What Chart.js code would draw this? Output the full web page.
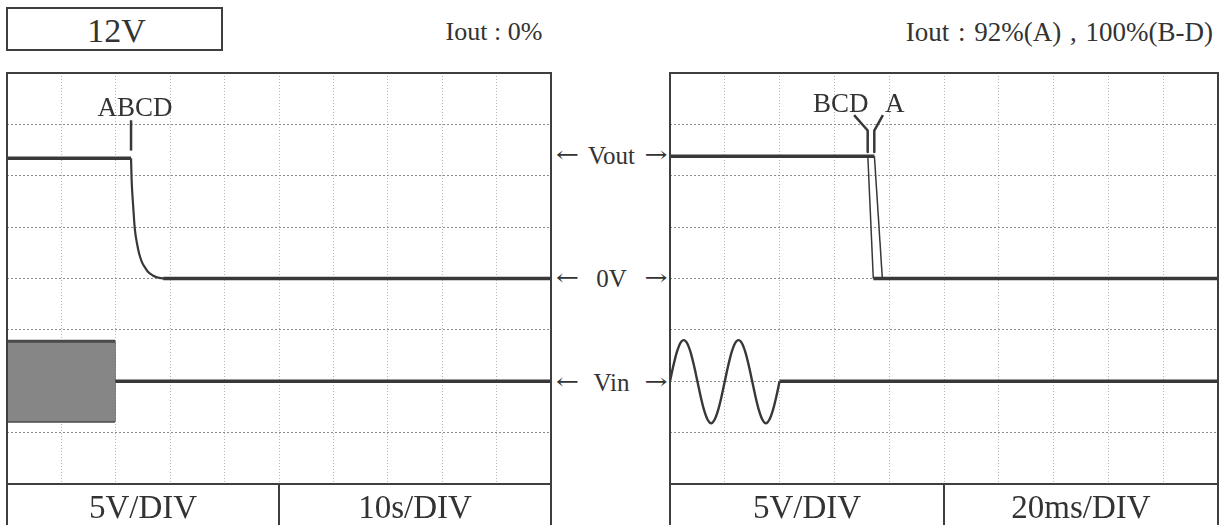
<!DOCTYPE html>
<html><head><meta charset="utf-8">
<script src="https://cdn.jsdelivr.net/npm/chart.js@4.4.0/dist/chart.umd.min.js"></script>
<style>
html,body{margin:0;padding:0;background:#fff;width:1228px;height:525px;overflow:hidden;}
body{position:relative;font-family:"Liberation Serif","DejaVu Serif",serif;color:#333;}
.t{position:absolute;line-height:1;white-space:nowrap;}
.box{position:absolute;box-sizing:border-box;border:2px solid #3e3e3e;}
.ln{position:absolute;background:#3e3e3e;}
canvas{position:absolute;}
.mid{position:absolute;left:556px;width:111px;height:26px;display:flex;justify-content:space-between;align-items:center;font-size:25px;line-height:1;}
.ar{display:inline-block;font-family:"DejaVu Serif","DejaVu Sans",serif;font-size:22px;line-height:1;}
.arl{transform-origin:left center;}
.arr{transform-origin:right center;}
</style></head><body>

<canvas id="cl" width="544" height="411" style="left:7px;top:73px;"></canvas>
<canvas id="cr" width="548" height="411" style="left:670px;top:73px;"></canvas>

<div class="box" style="left:6px;top:7px;width:217px;height:44px;"></div>
<div class="t" style="left:8px;width:217px;text-align:center;top:14px;font-size:34px;">12V</div>
<div class="t" style="left:394px;width:200px;text-align:center;top:19px;font-size:26px;">Iout : 0%</div>
<div class="t" style="right:15px;text-align:right;top:19px;font-size:27px;word-spacing:2px;">Iout : 92%(A) , 100%(B-D)</div>

<div class="box" style="left:6px;top:72px;width:546px;height:470px;"></div>
<div class="ln" style="left:6px;top:483px;width:546px;height:2px;"></div>
<div class="ln" style="left:278px;top:484px;width:2px;height:45px;"></div>
<div class="t" style="left:7px;width:272px;text-align:center;top:491px;font-size:33px;">5V/DIV</div>
<div class="t" style="left:279px;width:272px;text-align:center;top:491px;font-size:33px;">10s/DIV</div>

<div class="box" style="left:669px;top:72px;width:550px;height:470px;"></div>
<div class="ln" style="left:669px;top:483px;width:550px;height:2px;"></div>
<div class="ln" style="left:943px;top:484px;width:2px;height:45px;"></div>
<div class="t" style="left:670px;width:274px;text-align:center;top:491px;font-size:33px;">5V/DIV</div>
<div class="t" style="left:944px;width:274px;text-align:center;top:491px;font-size:33px;">20ms/DIV</div>

<div class="t" style="left:60px;width:150px;text-align:center;top:94px;font-size:27px;">ABCD</div>
<div class="t" style="left:813px;top:90px;font-size:27px;">BCD</div>
<div class="t" style="left:885px;top:90px;font-size:27px;">A</div>

<div class="mid" style="top:142px;"><span class="ar arl">←</span><span>Vout</span><span class="ar arr">→</span></div>
<div class="mid" style="top:265px;"><span class="ar arl">←</span><span>0V</span><span class="ar arr">→</span></div>
<div class="mid" style="top:369px;"><span class="ar arl">←</span><span>Vin</span><span class="ar arr">→</span></div>

<script>
// stretch the arrow glyphs to the long arrows of the original
document.querySelectorAll('.ar').forEach(function (s) {
  const w = s.getBoundingClientRect().width;
  if (w > 0) s.style.transform = 'scaleX(' + (23 / w) + ')';
});

// ---- axes (5 V/DIV, 8 vertical divisions; 10 horizontal divisions) ----
const voltMin = -20, voltMax = 20, voltStep = 5;
const leftTimeMax = 100, leftTimeStep = 10;   // seconds, 10 s/DIV
const rightTimeMax = 200, rightTimeStep = 20; // ms, 20 ms/DIV
const VIN_OFFSET = -10; // Vin trace ground is 2 divisions below Vout 0V

// ---- left panel (Iout 0%) ----
const leftVoutHighT = [0, 22.8];
const leftVoutHighV = [11.7, 11.7];
const leftVoutDecayT = [22.8, 22.9, 23.2, 23.5, 23.9, 24.3, 24.8, 25.4, 26.0, 26.8, 27.7, 28.7];
const leftVoutDecayV = [11.7, 9.7, 7.0, 4.8, 3.4, 2.4, 1.6, 1.05, 0.6, 0.3, 0.1, 0];
const leftVoutZeroT = [28.7, 100];
const leftVoutZeroV = [0, 0];
const leftVinBandT = [0, 19.85];      // AC input (dense, shown as envelope)
const leftVinBandHigh = [3.9, 3.9];
const leftVinBandLow = [-3.9, -3.9];
const leftVinOffT = [19.85, 100];
const leftVinOffV = [0, 0];
const leftMarkerT = [22.8, 22.8];     // ABCD
const leftMarkerV = [12.45, 15.4];

// ---- right panel (Iout 92% A, 100% B-D) ----
const rightVoutHighT = [0, 74.6];
const rightVoutHighV = [11.9, 11.9];
const rightDropBCDT = [72.2, 74.2];
const rightDropBCDV = [11.9, 0];
const rightDropAT = [74.6, 77.5];
const rightDropAV = [11.9, 0];
const rightVoutZeroT = [74.2, 200];
const rightVoutZeroV = [0, 0];
const rightVinSineT = [0,1.25,2.5,3.75,5,6.25,7.5,8.75,10,11.25,12.5,13.75,15,16.25,17.5,18.75,20,
  21.25,22.5,23.75,25,26.25,27.5,28.75,30,31.25,32.5,33.75,35,36.25,37.5,38.75,40];
const rightVinSineV = [0,1.53,2.83,3.7,4.0,3.7,2.83,1.53,0,-1.55,-2.86,-3.75,-4.1,-3.75,-2.86,-1.55,0,
  1.53,2.83,3.7,4.0,3.7,2.83,1.53,0,-1.55,-2.86,-3.75,-4.1,-3.75,-2.86,-1.55,0];
const rightVinOffT = [40, 200];
const rightVinOffV = [0, 0];
const rightMarkerBCDT = [67.2, 72.15, 72.15];
const rightMarkerBCDV = [15.9, 14.4, 12.3];
const rightMarkerAT = [77.7, 74.56, 74.56];
const rightMarkerAV = [15.9, 14.4, 12.3];

function pts(t, v, off) { off = off || 0; return t.map((x, i) => ({x: x, y: v[i] + off})); }
const TRACE = '#383838';
function ds(data, width, extra) {
  return Object.assign({data: data, borderColor: TRACE, borderWidth: width, pointRadius: 0,
    fill: false, tension: 0, borderCapStyle: 'butt', borderJoinStyle: 'round'}, extra || {});
}

function makeChart(id, xMax, xStep, datasets) {
  return new Chart(document.getElementById(id), {
    type: 'line',
    data: {datasets: datasets},
    options: {
      responsive: false, animation: false, devicePixelRatio: 1,
      layout: {padding: 0},
      plugins: {legend: {display: false}, tooltip: {enabled: false}},
      scales: {
        x: {type: 'linear', min: 0, max: xMax,
            ticks: {display: false, stepSize: xStep},
            grid: {color: '#b4b4b4', lineWidth: 1, drawTicks: false},
            border: {display: false, dash: [1, 2]}},
        y: {type: 'linear', min: voltMin, max: voltMax,
            ticks: {display: false, stepSize: voltStep},
            grid: {color: '#8c8c8c', lineWidth: 1, drawTicks: false},
            border: {display: false, dash: [2, 2]}}
      }
    }
  });
}

makeChart('cl', leftTimeMax, leftTimeStep, [
  ds(pts(leftVinBandT, leftVinBandHigh, VIN_OFFSET), 3,
     {fill: {value: leftVinBandLow[0] + VIN_OFFSET}, backgroundColor: '#868686', borderColor: '#4a4a4a'}),
  ds(pts(leftVinBandT, leftVinBandLow, VIN_OFFSET), 3, {borderColor: '#4a4a4a'}),
  ds(pts([leftVinBandT[1], leftVinBandT[1]], [leftVinBandHigh[1], leftVinBandLow[1]], VIN_OFFSET), 1.5, {borderColor: '#5a5a5a'}),
  ds(pts(leftVinOffT, leftVinOffV, VIN_OFFSET), 3.5),
  ds(pts(leftVoutHighT, leftVoutHighV), 3.5),
  ds(pts(leftVoutDecayT, leftVoutDecayV), 2.2, {cubicInterpolationMode: 'monotone'}),
  ds(pts(leftVoutZeroT, leftVoutZeroV), 3.5),
  ds(pts(leftMarkerT, leftMarkerV), 2.5)
]);

makeChart('cr', rightTimeMax, rightTimeStep, [
  ds(pts(rightVinSineT, rightVinSineV, VIN_OFFSET), 2.4, {cubicInterpolationMode: 'monotone'}),
  ds(pts(rightVinOffT, rightVinOffV, VIN_OFFSET), 3.5),
  ds(pts(rightVoutHighT, rightVoutHighV), 3.5),
  ds(pts(rightDropBCDT, rightDropBCDV), 1.5),
  ds(pts(rightDropAT, rightDropAV), 1.5),
  ds(pts(rightVoutZeroT, rightVoutZeroV), 3.5),
  ds(pts(rightMarkerBCDT, rightMarkerBCDV), 2.5),
  ds(pts(rightMarkerAT, rightMarkerAV), 2.5)
]);
</script>
</body></html>
